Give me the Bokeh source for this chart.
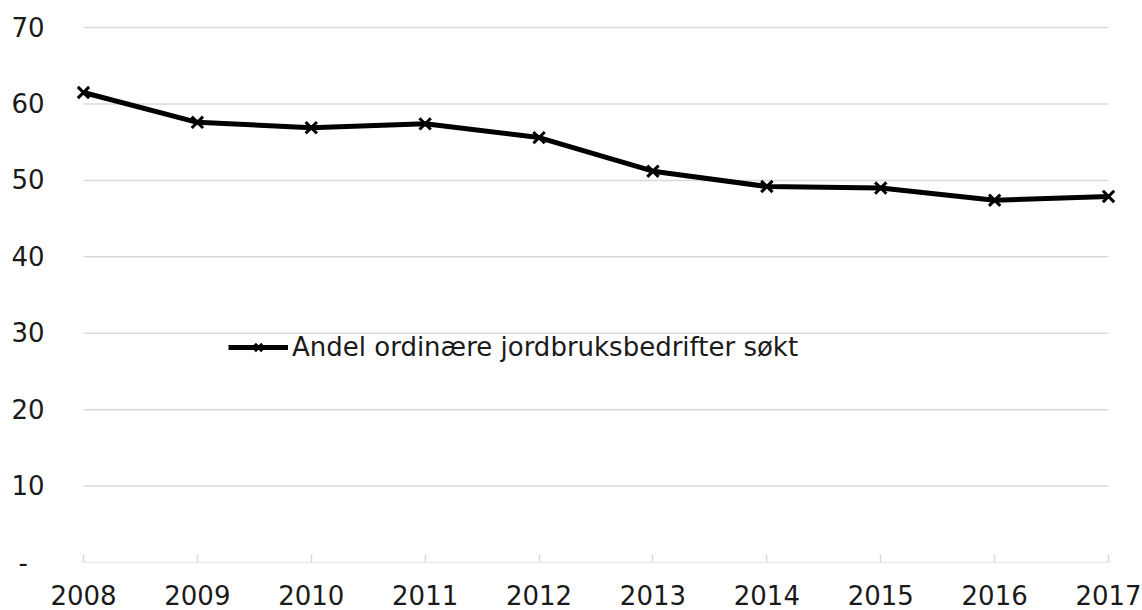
from bokeh.plotting import figure
from bokeh.models import Range1d, Legend, LegendItem, FixedTicker
from bokeh.embed import file_html
from bokeh.resources import INLINE

years = [2008, 2009, 2010, 2011, 2012, 2013, 2014, 2015, 2016, 2017]
andel = [61.5, 57.6, 56.9, 57.4, 55.6, 51.2, 49.2, 49.0, 47.4, 47.9]
series_name = "Andel ordinære jordbruksbedrifter søkt"
y_ticks = [0, 10, 20, 30, 40, 50, 60, 70]

FONT = "DejaVu Sans"
TXT = "#1a1a1a"
GRID = "#d9d9d9"
FS = "26px"

p = figure(width=1142, height=610, output_backend="svg", toolbar_location=None,
           x_range=Range1d(2007.93, 2017.07), y_range=Range1d(0, 70.4),
           min_border_left=75, min_border_right=26, min_border_top=24,
           min_border_bottom=48)
p.outline_line_color = None
p.background_fill_color = "white"

# horizontal gridlines spanning the category extent (as in the original)
n = len(y_ticks)
p.segment(x0=[years[0]] * n, x1=[years[-1]] * n, y0=y_ticks, y1=y_ticks,
          line_color=GRID, line_width=1.5)

line = p.line(years, andel, line_color="black", line_width=5)
marks = p.scatter(years, andel, marker="x", size=16, line_color="black", line_width=3)

# x axis
p.xaxis.ticker = FixedTicker(ticks=years)
p.xaxis.axis_line_color = None
p.xaxis.major_tick_line_color = GRID
p.xaxis.major_tick_line_width = 1.5
p.xaxis.major_tick_in = 8
p.xaxis.major_tick_out = 0
p.xaxis.minor_tick_line_color = None
p.xaxis.major_label_text_font = FONT
p.xaxis.major_label_text_font_size = FS
p.xaxis.major_label_text_color = TXT
p.xaxis.major_label_standoff = 22

# y axis
p.yaxis.ticker = FixedTicker(ticks=y_ticks)
p.yaxis.axis_line_color = None
p.yaxis.major_tick_line_color = None
p.yaxis.major_tick_in = 0
p.yaxis.major_tick_out = 0
p.yaxis.minor_tick_line_color = None
p.yaxis.minor_tick_in = 0
p.yaxis.minor_tick_out = 0
p.yaxis.major_label_overrides = {0: "-\u00a0\u00a0"}
p.yaxis.major_label_text_font = FONT
p.yaxis.major_label_text_font_size = FS
p.yaxis.major_label_text_color = TXT
p.yaxis.major_label_standoff = 31

p.xgrid.grid_line_color = None
p.ygrid.grid_line_color = None

legend = Legend(items=[LegendItem(label=series_name, renderers=[line, marks])],
                location=(153, 200), orientation="vertical")
legend.border_line_color = None
legend.background_fill_alpha = 0
legend.padding = 0
legend.margin = 0
legend.glyph_width = 60
legend.glyph_height = 26
legend.label_standoff = 4
legend.label_text_font = FONT
legend.label_text_font_size = FS
legend.label_text_color = TXT
p.add_layout(legend)

open("out.html", "w").write(file_html(p, INLINE))
